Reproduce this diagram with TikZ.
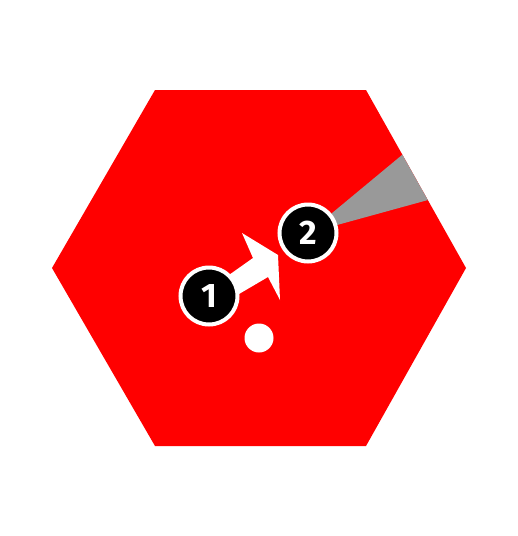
\documentclass[tikz,border=0pt]{standalone}
\usepackage{fontspec}
\setmainfont{Fira Sans}
\begin{document}
\begin{tikzpicture}[x=1pt,y=-1pt,
  badge/.style={circle,fill=black,draw=white,line width=4pt,minimum size=57pt,inner sep=0pt,text=white,font=\fontsize{34}{34}\selectfont\bfseries}]
\useasboundingbox (0,0) rectangle (518,536);
\fill[white] (0,0) rectangle (518,536);
% hexagon
\coordinate (h1) at (155,90);
\coordinate (h2) at (366,90);
\coordinate (h3) at (466,268);
\coordinate (h4) at (366,446);
\coordinate (h5) at (155,446);
\coordinate (h6) at (52,268);
\fill[red] (h1) -- (h2) -- (h3) -- (h4) -- (h5) -- (h6) -- cycle;
% gray wedge
\coordinate (c2pos) at (308,233);
\coordinate (w1) at (590,-1);
\coordinate (w2) at (668,134);
\begin{scope}
  \clip (h1) -- (h2) -- (h3) -- (h4) -- (h5) -- (h6) -- cycle;
  \fill[black!40] (c2pos) -- (w1) -- (w2) -- cycle;
\end{scope}
% white arrow
\fill[white] (212,287) -- (253,258) -- (242,233) -- (278,255) -- (280,300) -- (268,277) -- (222,304) -- cycle;
% dot
\fill[white] (259,338) circle (14.5);
% badges
\node[badge] (c1) at (209,296) {1};
\node[badge] (c2) at (c2pos) {2};
\end{tikzpicture}
\end{document}
